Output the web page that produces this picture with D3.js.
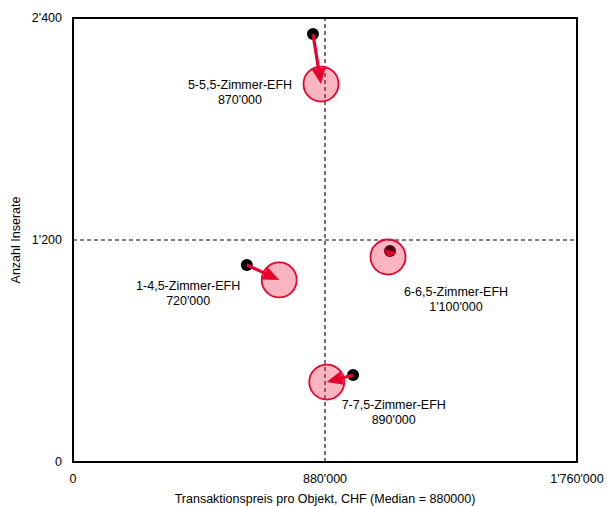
<!DOCTYPE html>
<html><head><meta charset="utf-8">
<script src="https://cdn.jsdelivr.net/npm/d3@7"></script>
<style>body{margin:0;background:#fff}svg{display:block}text{font-family:"Liberation Sans",Arial,sans-serif;fill:#000}</style>
</head><body><svg id="c" width="607" height="506"></svg>
<script>
const categories = ["1-4,5-Zimmer-EFH","5-5,5-Zimmer-EFH","6-6,5-Zimmer-EFH","7-7,5-Zimmer-EFH"];
const priceLabels = ["720'000","870'000","1'100'000","890'000"];
const prevPrice = [607000, 838000, 1107000, 978000];
const prevCount = [1065, 2313, 1141, 470];
const currPrice = [720000, 866000, 1100000, 886000];
const currCount = [984, 2043, 1108, 432];
const xTicks = [0, 880000, 1760000];
const xTickLabels = ["0","880'000","1'760'000"];
const yTicks = [0, 1200, 2400];
const yTickLabels = ["0","1'200","2'400"];
const medianPrice = 880000, medianCount = 1200;

// layout: label offsets (px) relative to circle centre
const labelOffset = [[-91,10],[-81,5],[68,39],[67,27]];

const svg = d3.select("#c");
const L=73,R=577,T=18,B=462;
const FS=12.5;
const x = d3.scaleLinear().domain([0,1760000]).range([L,R]);
const y = d3.scaleLinear().domain([0,2400]).range([B,T]);

// median lines
svg.append("line").attr("x1",x(0)).attr("x2",x(1760000)).attr("y1",y(medianCount)).attr("y2",y(medianCount))
  .attr("stroke","#000").attr("stroke-width",1.1).attr("stroke-dasharray","4,3");
svg.append("line").attr("x1",x(medianPrice)).attr("x2",x(medianPrice)).attr("y1",y(0)).attr("y2",y(2400))
  .attr("stroke","#000").attr("stroke-width",1.1).attr("stroke-dasharray","4,3");

// frame
svg.append("rect").attr("x",L).attr("y",T).attr("width",R-L).attr("height",B-T)
  .attr("fill","none").attr("stroke","#000").attr("stroke-width",2);

// tick labels
svg.selectAll(".yt").data(yTicks).enter().append("text")
  .attr("x",L-11).attr("y",d=>y(d)+4).attr("text-anchor","end").attr("font-size",FS).text((d,i)=>yTickLabels[i]);
svg.selectAll(".xt").data(xTicks).enter().append("text")
  .attr("x",d=>x(d)).attr("y",B+21).attr("text-anchor","middle").attr("font-size",FS).text((d,i)=>xTickLabels[i]);

svg.append("text").attr("x",x(880000)).attr("y",503).attr("text-anchor","middle").attr("font-size",FS)
  .text("Transaktionspreis pro Objekt, CHF (Median = 880000)");
svg.append("text").attr("transform",`translate(20,${(T+B)/2}) rotate(-90)`).attr("text-anchor","middle").attr("font-size",FS)
  .text("Anzahl Inserate");

const idx = d3.range(categories.length);
// previous dots
svg.selectAll(".prev").data(idx).enter().append("circle")
  .attr("cx",i=>x(prevPrice[i])).attr("cy",i=>y(prevCount[i])).attr("r",6).attr("fill","#000");
// current circles
svg.selectAll(".curr").data(idx).enter().append("circle")
  .attr("cx",i=>x(currPrice[i])).attr("cy",i=>y(currCount[i])).attr("r",17.5)
  .attr("fill","rgba(238,25,60,0.32)").attr("stroke","#e8062e").attr("stroke-width",1.8);
// arrows
idx.forEach(i=>{
  const x1=x(prevPrice[i]),y1=y(prevCount[i]),x2=x(currPrice[i]),y2=y(currCount[i]);
  const dx=x2-x1,dy=y2-y1,len=Math.hypot(dx,dy),ux=dx/len,uy=dy/len;
  const hl=Math.min(16,len), hw=7;
  const bx=x2-ux*hl, by=y2-uy*hl;
  svg.append("line").attr("x1",x1).attr("y1",y1).attr("x2",bx+ux).attr("y2",by+uy)
    .attr("stroke","#e8002d").attr("stroke-width",3.2);
  svg.append("path").attr("d",`M${x2},${y2}L${bx-uy*hw},${by+ux*hw}L${bx+uy*hw},${by-ux*hw}Z`).attr("fill","#e8002d");
});
// labels
idx.forEach(i=>{
  const cx=x(currPrice[i])+labelOffset[i][0], cy=y(currCount[i])+labelOffset[i][1];
  svg.append("text").attr("x",cx).attr("y",cy).attr("text-anchor","middle").attr("font-size",FS).text(categories[i]);
  svg.append("text").attr("x",cx).attr("y",cy+15).attr("text-anchor","middle").attr("font-size",FS).text(priceLabels[i]);
});
</script></body></html>
